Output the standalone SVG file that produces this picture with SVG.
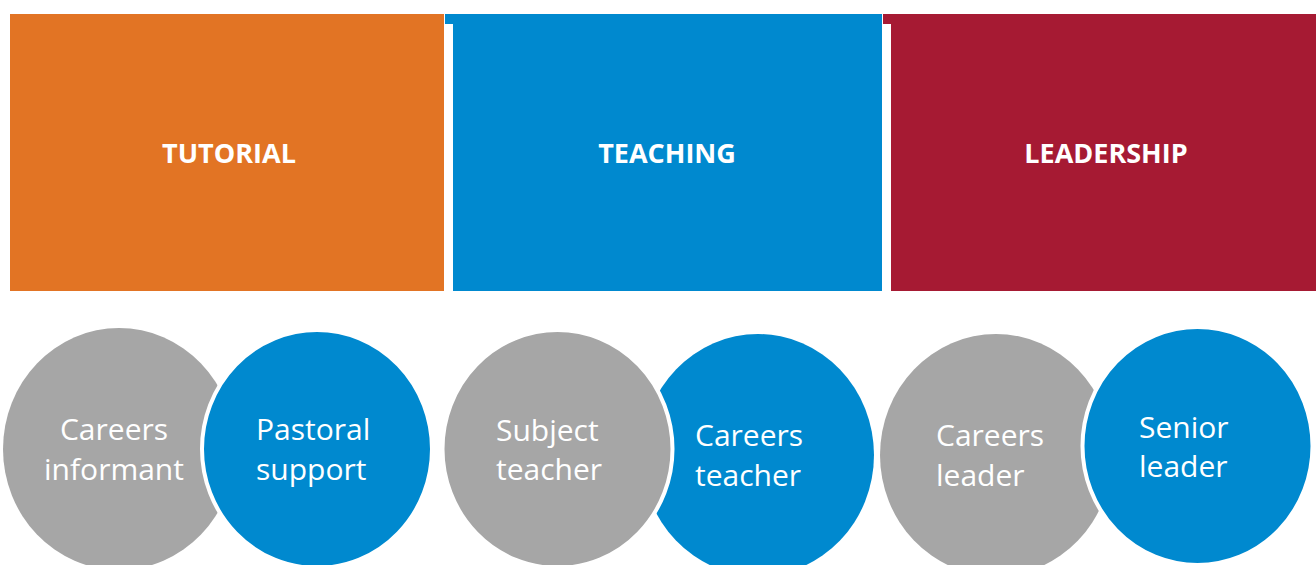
<svg xmlns="http://www.w3.org/2000/svg" width="1316" height="565" viewBox="0 0 1316 565">
  <style>
    .head { fill: #ffffff; font-family: "Open Sans", "Liberation Sans", sans-serif; font-weight: bold; font-size: 27px; text-anchor: middle; }
    .lbl { fill: #ffffff; font-family: "Open Sans", "Liberation Sans", sans-serif; font-size: 30px; }
    .grey { fill: #a6a6a6; }
    .blue { fill: #0089cf; }
    .ring { stroke: #ffffff; stroke-width: 4; }
  </style>
  <rect width="1316" height="565" fill="#ffffff"/>

  <!-- column headers -->
  <g id="tutorial">
    <rect x="10" y="14" width="434" height="277" fill="#e27424"/>
    <text class="head" x="229" y="163">TUTORIAL</text>
  </g>
  <g id="teaching">
    <path d="M445,14 H882 V291 H453 V24 H445 Z" fill="#0089cf"/>
    <text class="head" x="667" y="163">TEACHING</text>
  </g>
  <g id="leadership">
    <path d="M883,14 H1316 V291 H891 V24 H883 Z" fill="#a61a33"/>
    <text class="head" x="1106" y="163">LEADERSHIP</text>
  </g>

  <!-- tutorial roles -->
  <g id="careers-informant">
    <ellipse class="grey" cx="119" cy="449" rx="116" ry="121"/>
    <text class="lbl" x="114" y="440" text-anchor="middle">Careers</text>
    <text class="lbl" x="114" y="480" text-anchor="middle">informant</text>
  </g>
  <g id="pastoral-support">
    <ellipse class="blue ring" cx="317" cy="449" rx="115" ry="119"/>
    <text class="lbl" x="256" y="440">Pastoral</text>
    <text class="lbl" x="256" y="480">support</text>
  </g>

  <!-- teaching roles -->
  <g id="careers-teacher">
    <ellipse class="blue" cx="758" cy="455" rx="116" ry="121"/>
    <text class="lbl" x="695" y="446">Careers</text>
    <text class="lbl" x="695" y="486">teacher</text>
  </g>
  <g id="subject-teacher">
    <ellipse class="grey ring" cx="557.5" cy="449" rx="115" ry="119"/>
    <text class="lbl" x="496" y="441">Subject</text>
    <text class="lbl" x="496" y="480">teacher</text>
  </g>

  <!-- leadership roles -->
  <g id="careers-leader">
    <ellipse class="grey" cx="996" cy="455" rx="116" ry="121"/>
    <text class="lbl" x="936" y="446">Careers</text>
    <text class="lbl" x="936" y="486">leader</text>
  </g>
  <g id="senior-leader">
    <ellipse class="blue ring" cx="1197.5" cy="446" rx="115" ry="119"/>
    <text class="lbl" x="1139" y="438">Senior</text>
    <text class="lbl" x="1139" y="477">leader</text>
  </g>

  <g id="connectors"/>
</svg>
